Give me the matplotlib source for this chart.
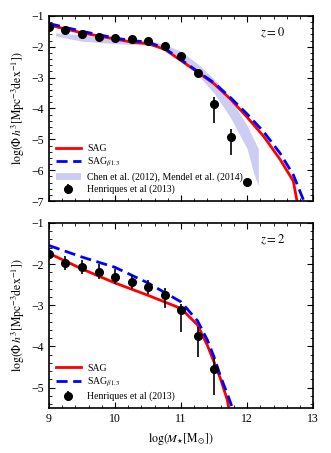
import matplotlib
matplotlib.use("Agg")
import matplotlib.pyplot as plt
from matplotlib.ticker import MultipleLocator
import numpy as np

plt.rcParams['font.family'] = ['Liberation Serif', 'DejaVu Serif']
plt.rcParams['mathtext.fontset'] = 'stix'

# z = 0 data
obs0_x = [9.0, 9.25, 9.5, 9.75, 10.0, 10.25, 10.5, 10.75, 11.0, 11.25, 11.5, 11.75, 12.0]
obs0_y = [-1.35, -1.47, -1.6, -1.67, -1.72, -1.75, -1.82, -1.97, -2.3, -2.84, -3.87, -4.92, -6.37]
obs0_lo = [0.05, 0.06, 0.05, 0.05, 0.05, 0.05, 0.05, 0.05, 0.06, 0.12, 0.6, 0.6, 0.17]
obs0_hi = [0.05, 0.06, 0.05, 0.05, 0.05, 0.05, 0.05, 0.05, 0.06, 0.08, 0.25, 0.25, 0.1]

sag0_x = [9.0, 9.5, 10.0, 10.25, 10.5, 10.75, 11.0, 11.25, 11.5, 11.75, 12.0, 12.25, 12.5, 12.7, 12.76]
sag0_y = [-1.3, -1.55, -1.75, -1.85, -1.9, -2.08, -2.45, -2.82, -3.2, -3.7, -4.28, -4.9, -5.65, -6.35, -7.05]
sagb0_x = [9.0, 9.5, 10.0, 10.25, 10.5, 10.75, 11.0, 11.25, 11.5, 11.75, 12.0, 12.25, 12.5, 12.7, 12.87]
sagb0_y = [-1.25, -1.5, -1.72, -1.8, -1.85, -2.05, -2.42, -2.8, -3.17, -3.65, -4.18, -4.75, -5.45, -6.15, -7.05]

band_x = [9.1, 9.5, 10.0, 10.5, 10.75, 11.0, 11.25, 11.5, 11.75, 12.0, 12.1, 12.17]
band_hi = [-1.55, -1.62, -1.72, -1.8, -1.92, -2.15, -2.55, -3.05, -3.7, -4.55, -5.0, -5.3]
band_lo = [-1.65, -1.82, -1.9, -1.95, -2.05, -2.4, -2.9, -3.5, -4.3, -5.3, -6.1, -6.5]

# z = 2 data
obs2_x = [9.0, 9.25, 9.5, 9.75, 10.0, 10.25, 10.5, 10.75, 11.0, 11.25, 11.5]
obs2_y = [-1.75, -1.98, -2.07, -2.19, -2.31, -2.43, -2.56, -2.76, -3.11, -3.75, -4.55]
obs2_lo = [0.15, 0.17, 0.17, 0.18, 0.18, 0.17, 0.17, 0.3, 0.54, 0.5, 0.62]
obs2_hi = [0.15, 0.17, 0.17, 0.18, 0.18, 0.17, 0.17, 0.18, 0.14, 0.22, 0.26]

sag2_x = [9.0, 9.5, 10.0, 10.5, 11.0, 11.25, 11.4, 11.5, 11.6, 11.7, 11.73]
sag2_y = [-1.74, -2.12, -2.46, -2.76, -3.08, -3.48, -3.98, -4.38, -4.8, -5.3, -5.55]
sagb2_x = [9.0, 9.5, 10.0, 10.5, 11.0, 11.25, 11.4, 11.5, 11.6, 11.7, 11.79]
sagb2_y = [-1.55, -1.83, -2.08, -2.46, -2.92, -3.38, -3.85, -4.26, -4.74, -5.15, -5.55]

fig = plt.figure(figsize=(3.31, 4.53), dpi=100)
ax1 = fig.add_axes([0.148, 0.556, 0.798, 0.409])
ax2 = fig.add_axes([0.148, 0.099, 0.798, 0.409])

ylabel = r'$\log(\Phi\, h^3[\mathrm{Mpc}^{-3}\mathrm{dex}^{-1}])$'
leg_kw = dict(loc='lower left', fontsize=7, frameon=False, handlelength=2.6,
              labelspacing=0.3, borderaxespad=0.3, handletextpad=0.6)

ax1.fill_between(band_x, band_lo, band_hi, color='#ccccf4', lw=0,
                 label='Chen et al. (2012), Mendel et al. (2014)')
ax1.plot(sag0_x, sag0_y, color='red', lw=2, label='SAG')
ax1.plot(sagb0_x, sagb0_y, color='blue', lw=2, ls=(0, (4, 2)), label=r'SAG$_{\beta 1.3}$')
ax1.errorbar(obs0_x, obs0_y, yerr=[obs0_lo, obs0_hi], fmt='o', color='black',
             ms=5.5, elinewidth=1.2, capsize=0, label='Henriques et al (2013)', zorder=5)
ax1.set_xlim(9, 13)
ax1.set_ylim(-7, -1)
ax1.text(0.845, 0.91, r'$z = 0$', transform=ax1.transAxes, ha='center', va='center', fontsize=9)
h, l = ax1.get_legend_handles_labels()
order = [1, 2, 0, 3]
ax1.legend([h[i] for i in order], [l[i] for i in order], **leg_kw)

ax2.plot(sag2_x, sag2_y, color='red', lw=2, label='SAG')
ax2.plot(sagb2_x, sagb2_y, color='blue', lw=2, ls=(0, (4, 2)), label=r'SAG$_{\beta 1.3}$')
ax2.errorbar(obs2_x, obs2_y, yerr=[obs2_lo, obs2_hi], fmt='o', color='black',
             ms=5.5, elinewidth=1.2, capsize=0, label='Henriques et al (2013)', zorder=5)
ax2.set_xlim(9, 13)
ax2.set_ylim(-5.5, -1)
ax2.text(0.845, 0.91, r'$z = 2$', transform=ax2.transAxes, ha='center', va='center', fontsize=9)
ax2.legend(**leg_kw)
ax2.set_xlabel(r'$\log(M_{\star}[\mathrm{M}_{\odot}])$', fontsize=8.5)

for ax in (ax1, ax2):
    ax.set_ylabel(ylabel, fontsize=8.5, labelpad=3)
    ax.xaxis.set_major_locator(MultipleLocator(1))
    ax.xaxis.set_minor_locator(MultipleLocator(0.2))
    ax.yaxis.set_major_locator(MultipleLocator(1))
    ax.yaxis.set_minor_locator(MultipleLocator(0.2))
    ax.tick_params(which='both', direction='in', top=True, right=True, labelsize=8.5)
    ax.tick_params(which='major', length=4)
    ax.tick_params(which='minor', length=2)
    for s in ax.spines.values():
        s.set_linewidth(1.2)
ax1.tick_params(labelbottom=False)

fig.savefig('out.png', dpi=100)
